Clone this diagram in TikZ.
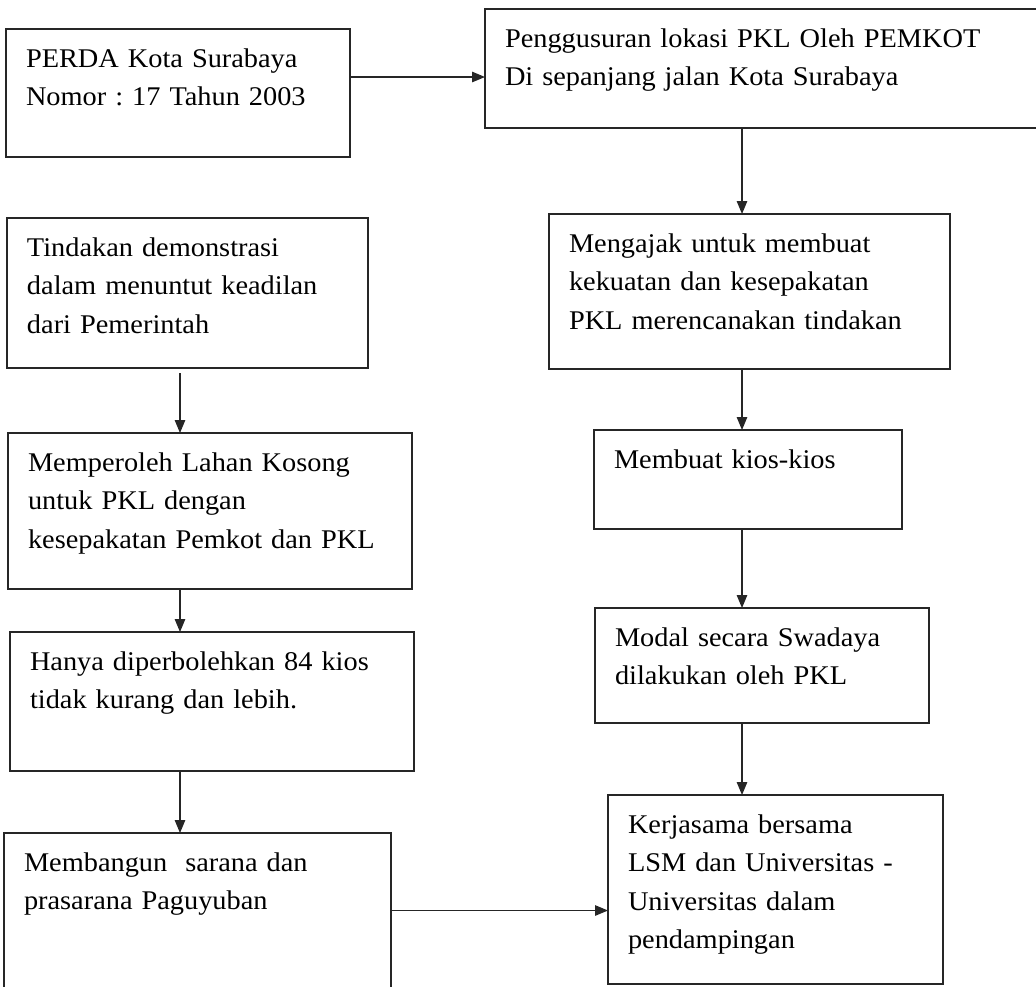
\documentclass[tikz,border=0pt]{standalone}
\usepackage{fontspec}
\setmainfont[FakeStretch=1.05]{Liberation Serif}
\usetikzlibrary{positioning, arrows.meta}
\tikzset{
>={Triangle[length=13pt, width=10.5pt]}, % filled arrow heads as in the scan
flow/.style={->, line width=1.3pt, draw=black!85}, % every connector
box/.style 2 args={draw=black!85, line width=1.3pt, rectangle, anchor=north west,
  align=left, inner xsep=20pt, inner ysep=18pt, outer sep=0pt, text height=20pt,
  text width=#1, text depth=#2, % width of the text, room left below it
  font=\fontsize{27}{38.5}\selectfont\frenchspacing},
}
\begin{document}
\begin{tikzpicture}
    \useasboundingbox (0pt,0pt) rectangle (1036pt,-986pt);

    \node[box={304pt}{72pt}] (perda) at (6pt,-29pt) {PERDA Kota Surabaya\\Nomor : 17 Tahun 2003};
    \node[box={520pt}{63pt}, above right=20pt and 135pt of perda.north east, anchor=north west] (gusur) {Penggusuran lokasi PKL Oleh PEMKOT\\Di sepanjang jalan Kota Surabaya};
    \node[box={361pt}{99pt}, below right=86pt and 64pt of gusur.south west, anchor=north west] (ajak) {Mengajak untuk membuat\\kekuatan dan kesepakatan\\PKL merencanakan tindakan};
    \node[box={268pt}{43pt}, below right=61pt and 45pt of ajak.south west, anchor=north west] (kios) {Membuat kios-kios};
    \node[box={294pt}{59pt}, below right=79pt and 1pt of kios.south west, anchor=north west] (modal) {Modal secara Swadaya\\dilakukan oleh PKL};
    \node[box={295pt}{133pt}, below right=72pt and 13pt of modal.south west, anchor=north west] (kerja) {Kerjasama bersama\\LSM dan Universitas -\\Universitas dalam\\pendampingan};

    \node[box={321pt}{94pt}, below right=61pt and 1pt of perda.south west, anchor=north west] (tind) {Tindakan demonstrasi\\dalam menuntut keadilan\\dari Pemerintah};
    \node[box={364pt}{100pt}, below right=65pt and 1pt of tind.south west, anchor=north west] (lahan) {Memperoleh Lahan Kosong\\untuk PKL dengan\\kesepakatan Pemkot dan PKL};
    \node[box={364pt}{83pt}, below right=43pt and 2pt of lahan.south west, anchor=north west] (hanya) {Hanya diperbolehkan 84 kios\\tidak kurang dan lebih.};
    \node[box={347pt}{99pt}, below left=62pt and 6pt of hanya.south west, anchor=north west] (bangun) {Membangun~ sarana dan\\prasarana Paguyuban};

    \coordinate (rx) at (742pt,0pt);
    \coordinate (lx) at (180pt,0pt);
    \coordinate (a1) at ([yshift=16pt]perda.east);

    \draw[flow] (a1) -- (a1 -| gusur.west);
    \draw[flow] (gusur.south -| rx) -- (ajak.north -| rx);
    \draw[flow] (ajak.south -| rx) -- (kios.north -| rx);
    \draw[flow] (kios.south -| rx) -- (modal.north -| rx);
    \draw[flow] (modal.south -| rx) -- (kerja.north -| rx);
    \draw[flow, shorten <=5pt] (tind.south -| lx) -- (lahan.north -| lx);
    \draw[flow] (lahan.south -| lx) -- (hanya.north -| lx);
    \draw[flow] (hanya.south -| lx) -- (bangun.north -| lx);
    \draw[flow] (bangun.east) -- (bangun.east -| kerja.west);
\end{tikzpicture}
\end{document}
